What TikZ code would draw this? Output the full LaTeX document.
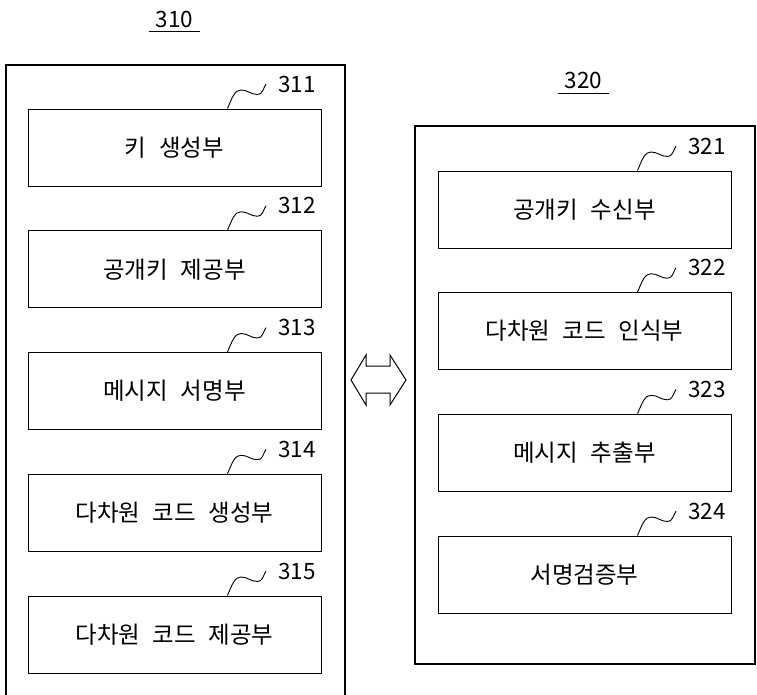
\documentclass[tikz,border=0pt]{standalone}
\usepackage{fontspec}
\setmainfont{Noto Sans CJK KR}
\newfontfamily\kr[WordSpace=2.4]{Noto Sans CJK KR}
\usetikzlibrary{calc}
\newcommand\waveleader[1]{%
  \draw[leader] ($(#1.north west)+(200,0)$)
    .. controls +(5,-12) and +(-6,0) .. ++(13.5,-18.5)
    .. controls +(7,0) and +(-7,0) .. ++(16.5,4.5)
    .. controls +(5,0) and +(-3,5) .. ++(8.5,-10.5);}
\begin{document}
\begin{tikzpicture}[x=1pt,y=-1pt,
  outer/.style={draw, line width=2.2pt, inner sep=0pt},
  unit/.style={draw, line width=1pt, minimum width=293pt, minimum height=77pt, inner sep=0pt, font=\kr\fontsize{23.5}{27}\selectfont},
  refnum/.style={inner sep=1pt, font=\fontsize{22.5}{26}\selectfont},
  leader/.style={line width=0.9pt},
]
\useasboundingbox (0,0) rectangle (757,694);
% group labels
\node[refnum, inner xsep=7pt] (l310) at (174.5,19) {310};
\draw[line width=1pt] ($(l310.south west)+(0,3)$) -- ($(l310.south east)+(0,3)$);
\node[refnum, inner xsep=7pt] (l320) at (583.5,80.5) {320};
\draw[line width=1pt] ($(l320.south west)+(0,3)$) -- ($(l320.south east)+(0,3)$);
% outer frames
\node[outer, minimum width=339pt, minimum height=700pt, anchor=north west] (g310) at (5,64) {};
\node[outer, minimum width=340pt, minimum height=538pt, anchor=north west] (g320) at (414,125) {};
% left units
\node[unit] (b311) at (174.5,147.5) {키 생성부};
\node[unit] (b312) at (174.5,269.25) {공개키 제공부};
\node[unit] (b313) at (174.5,391) {메시지 서명부};
\node[unit] (b314) at (174.5,512.75) {다차원 코드 생성부};
\node[unit] (b315) at (174.5,634.5) {다차원 코드 제공부};
% right units
\node[unit] (b321) at (584.5,209.5) {공개키 수신부};
\node[unit] (b322) at (584.5,331.2) {다차원 코드 인식부};
\node[unit] (b323) at (584.5,452.8) {메시지 추출부};
\node[unit] (b324) at (584.5,574.5) {서명검증부};
% reference numbers
\foreach \b in {311,312,313,314,315,321,322,323,324}{
  \node[refnum] (n\b) at ($(b\b.north west)+(269.5,-24.5)$) {\b};
  \waveleader{b\b}
}
% double arrow
\draw[line width=1pt, line join=miter] (351,380) -- (366,355) -- (366,366) -- (390,366) -- (390,355) -- (406,380) -- (390,405) -- (390,393) -- (366,393) -- (366,405) -- cycle;
\end{tikzpicture}
\end{document}
